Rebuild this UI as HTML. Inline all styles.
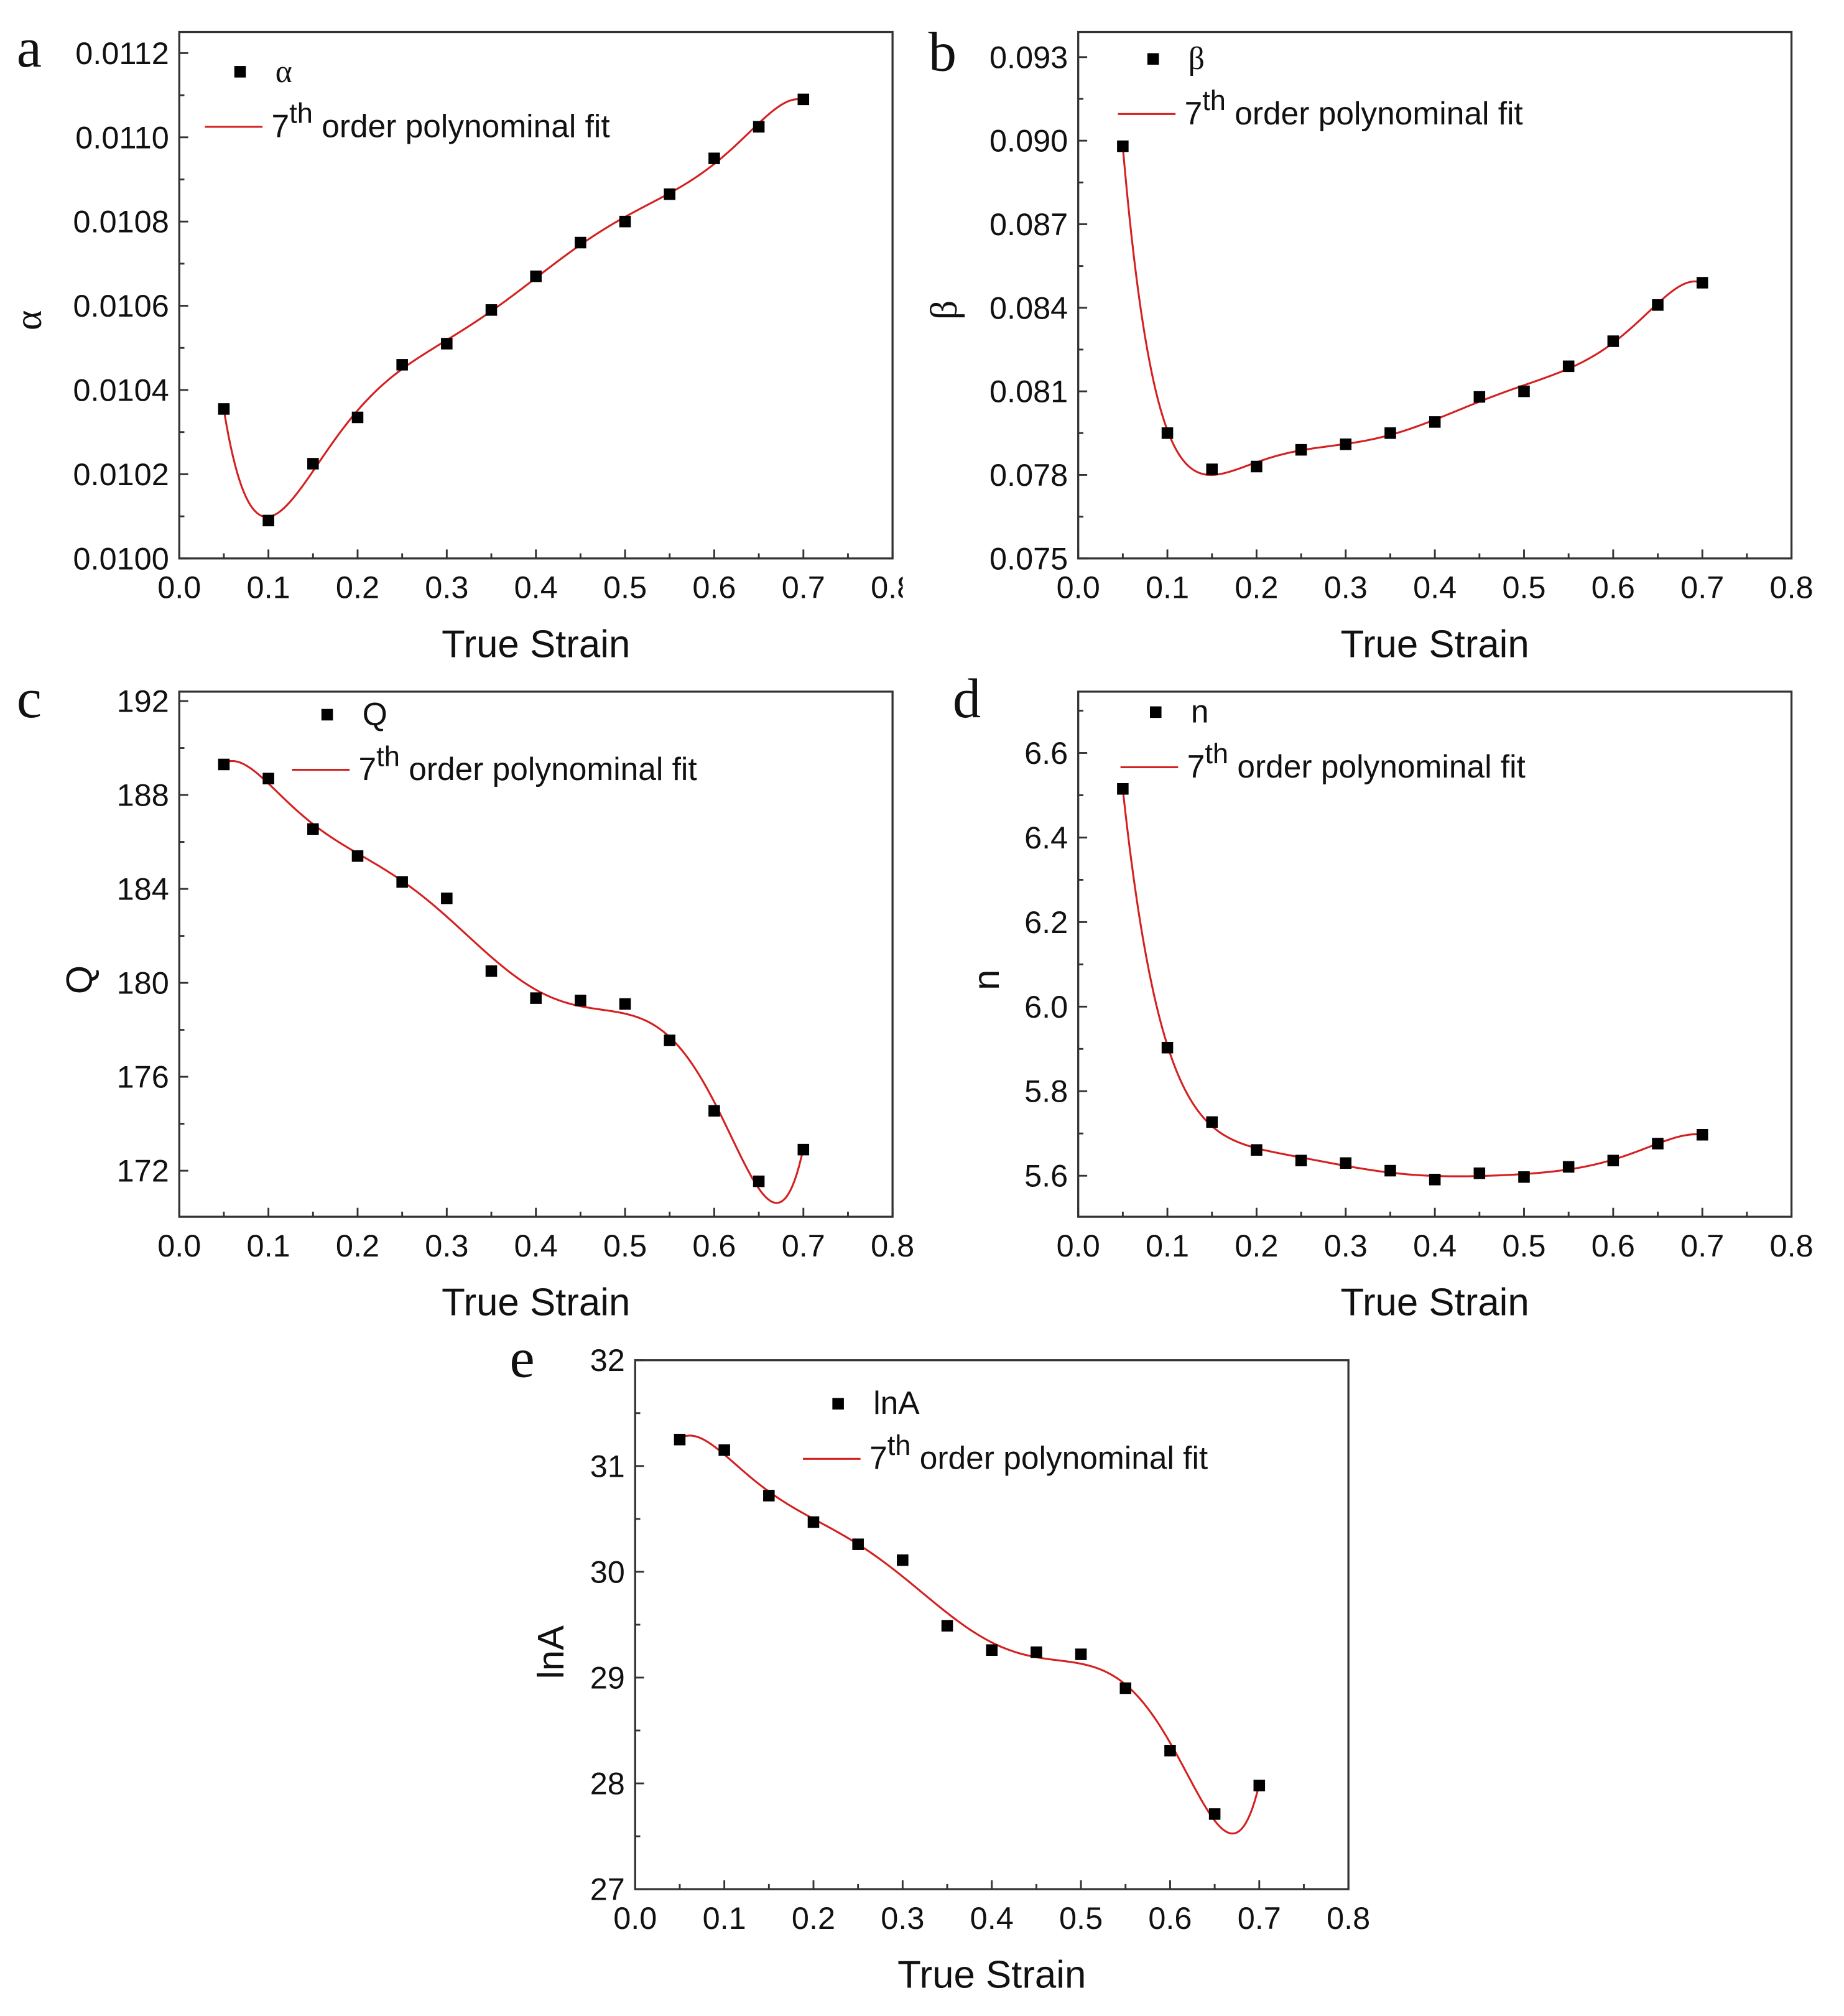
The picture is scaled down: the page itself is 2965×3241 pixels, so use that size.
<!DOCTYPE html>
<html><head><meta charset="utf-8"><style>
html,body{margin:0;padding:0;background:#fff;}
svg{display:block;}
text{font-family:"Liberation Sans",Arial,sans-serif;fill:#111;}
.ser{font-family:"Liberation Serif","DejaVu Serif",serif;}
</style></head><body>
<svg id="fig" width="2965" height="3241" viewBox="0 0 1440 1574" xmlns="http://www.w3.org/2000/svg">
<rect width="1440" height="1574" fill="#fff"/>
<defs><clipPath id="clipA"><rect x="0" y="0" width="705" height="1574"/></clipPath></defs>
</svg>
<script>
const strain = [0.05,0.1,0.15,0.2,0.25,0.3,0.35,0.4,0.45,0.5,0.55,0.6,0.65,0.7];
const alphaVals = [0.010355,0.01009,0.010225,0.010335,0.01046,0.01051,0.01059,0.01067,0.01075,0.0108,0.010865,0.01095,0.011025,0.01109];
const betaVals = [0.0898,0.0795,0.0782,0.0783,0.0789,0.0791,0.0795,0.0799,0.0808,0.0810,0.0819,0.0828,0.0841,0.0849];
const qVals = [189.3,188.7,186.55,185.4,184.3,183.6,180.5,179.35,179.25,179.1,177.55,174.55,171.55,172.9];
const nVals = [6.515,5.903,5.727,5.661,5.636,5.63,5.612,5.591,5.606,5.597,5.621,5.636,5.676,5.697];
const lnAVals = [31.25,31.15,30.72,30.47,30.26,30.11,29.49,29.26,29.24,29.22,28.90,28.31,27.71,27.98];
const xTicks = ['0.0','0.1','0.2','0.3','0.4','0.5','0.6','0.7','0.8'];
const aTicks = ['0.0100','0.0102','0.0104','0.0106','0.0108','0.0110','0.0112'];
const bTicks = ['0.075','0.078','0.081','0.084','0.087','0.090','0.093'];
const qTicks = ['172','176','180','184','188','192'];
const nTicks = ['5.6','5.8','6.0','6.2','6.4','6.6'];
const eTicks = ['27','28','29','30','31','32'];

const NS='http://www.w3.org/2000/svg';
const svg=document.getElementById('fig');
function mk(tag,attrs,parent){const e=document.createElementNS(NS,tag);for(const k in attrs)e.setAttribute(k,attrs[k]);(parent||svg).appendChild(e);return e;}

function polyfit(xs,ys,deg){
  const xm=(Math.min(...xs)+Math.max(...xs))/2, xs2=(Math.max(...xs)-Math.min(...xs))/2;
  const ym=ys.reduce((a,b)=>a+b,0)/ys.length; let ysd=Math.max(...ys.map(v=>Math.abs(v-ym)))||1;
  const n=deg+1; const A=[];for(let i=0;i<n;i++){A.push(new Array(n+1).fill(0));}
  xs.forEach((x,k)=>{const t=(x-xm)/xs2, y=(ys[k]-ym)/ysd;const p=[];for(let i=0;i<n;i++)p.push(Math.pow(t,i));
    for(let i=0;i<n;i++){for(let j=0;j<n;j++)A[i][j]+=p[i]*p[j];A[i][n]+=p[i]*y;}});
  for(let c=0;c<n;c++){let m=c;for(let r=c+1;r<n;r++)if(Math.abs(A[r][c])>Math.abs(A[m][c]))m=r;[A[c],A[m]]=[A[m],A[c]];
    for(let r=0;r<n;r++){if(r===c)continue;const f=A[r][c]/A[c][c];for(let j=c;j<=n;j++)A[r][j]-=f*A[c][j];}}
  const co=A.map((row,i)=>row[n]/row[i]);
  return x=>{const t=(x-xm)/xs2;let s=0;for(let i=n-1;i>=0;i--)s=s*t+co[i];return s*ysd+ym;};
}

function panel(o){
  const g=mk('g',{});
  
  
  const X=v=>o.L+(v-0)/(0.8)*(o.R-o.L);
  const Y=v=>o.B-(v-o.ymin)/(o.ymax-o.ymin)*(o.B-o.T);
  const fr=mk('rect',{x:o.L,y:o.T,width:o.R-o.L,height:o.B-o.T,fill:'none',stroke:'#333','stroke-width':1.6},g);
  
  const xg=mk('g',o.clip?{'clip-path':'url(#clipA)'}:{},g);
  
  for(let i=0;i<=16;i++){const v=i*0.05,x=X(v);mk('line',{x1:x,x2:x,y1:o.B,y2:o.B-(i%2?4:7),stroke:'#333','stroke-width':1.4},xg);}
  xTicks.forEach(t=>{const tx=mk('text',{x:X(parseFloat(t)),y:o.B+31,'font-size':24.5,'text-anchor':'middle'},xg);tx.textContent=t;
    });
  const yg=mk('g',{},g);
  const tv=o.ticks.map(Number);const step=tv[1]-tv[0];
  for(let v=tv[0]-step;v<=o.ymax+1e-9;v+=step/2){if(v<o.ymin-1e-9)continue;const y=Y(v);const maj=Math.abs(((v-tv[0])/step)-Math.round((v-tv[0])/step))<0.01;
    mk('line',{x1:o.L,x2:o.L+(maj?7:4),y1:y,y2:y,stroke:'#333','stroke-width':1.4},yg);}
  o.ticks.forEach(t=>{const tx=mk('text',{x:o.L-8,y:Y(+t)+8.5,'font-size':24.5,'text-anchor':'end'},yg);tx.textContent=t;
    });
  const xt=mk('text',{x:(o.L+o.R)/2,y:o.B+77,'font-size':30,'text-anchor':'middle'},g);xt.textContent='True Strain';
  
  const yt=mk('text',{x:o.ylx,y:o.yly,'font-size':o.ylSer?30:29,'text-anchor':'middle',transform:`rotate(-90 ${o.ylx} ${o.yly})`,class:o.ylSer?'ser':''},g);yt.textContent=o.ylabel;
  
  const pl=mk('text',{x:o.lx,y:o.ly,'font-size':44,class:'ser'},g);pl.textContent=o.letter;
  
  const f=polyfit(strain,o.vals,7);let d='';
  for(let i=0;i<=260;i++){const x=strain[0]+(strain[strain.length-1]-strain[0])*i/260;d+=(i?'L':'M')+X(x).toFixed(2)+' '+Y(f(x)).toFixed(2);}
  const fit=mk('path',{d:d,fill:'none',stroke:'#d42020','stroke-width':1.5},g);
  
  strain.forEach((s,i)=>{const r=mk('rect',{x:X(s)-4.5,y:Y(o.vals[i])-4.5,width:9,height:9,fill:'#000'},g);
    });
  const lg=mk('g',{},g);
  const m=mk('rect',{x:o.legX+18,y:o.legY-4.5,width:9,height:9,fill:'#000'},lg);
  
  const l1=mk('text',{x:o.legX+50,y:o.legY+8,'font-size':25,class:o.ylSer?'ser':''},lg);l1.textContent=o.ylabel;
  
  const ly=o.legY+43;
  const ll=mk('line',{x1:o.legX-5,x2:o.legX+40,y1:ly,y2:ly,stroke:'#d42020','stroke-width':1.5},lg);
  
  const l2=mk('text',{x:o.legX+47,y:ly+8,'font-size':25},lg);
  
  const t1=mk('tspan',{},l2);t1.textContent='7';
  const t2=mk('tspan',{dy:-11,'font-size':22},l2);t2.textContent='th';
  const t3=mk('tspan',{dy:11},l2);t3.textContent=' order polynominal fit';
}
panel({name:'panel-a-alpha',L:140,R:697,T:25,B:436,ymin:0.0100,ymax:0.01125,ticks:aTicks,vals:alphaVals,ylabel:'α',ylSer:true,ylx:32,yly:250,letter:'a',lx:13,ly:52,legX:165,legY:56,clip:true});
panel({name:'panel-b-beta',L:842,R:1399,T:25,B:436,ymin:0.075,ymax:0.0939,ticks:bTicks,vals:betaVals,ylabel:'β',ylSer:true,ylx:747,yly:242,letter:'b',lx:725,ly:55,legX:878,legY:46});
panel({name:'panel-c-Q',L:140,R:697,T:540,B:950,ymin:170.04,ymax:192.4,ticks:qTicks,vals:qVals,ylabel:'Q',ylx:72,yly:765,letter:'c',lx:13,ly:560,legX:233,legY:558});
panel({name:'panel-d-n',L:842,R:1399,T:540,B:950,ymin:5.503,ymax:6.745,ticks:nTicks,vals:nVals,ylabel:'n',ylx:780,yly:765,letter:'d',lx:744,ly:560,legX:880,legY:556});
panel({name:'panel-e-lnA',L:496,R:1053,T:1062,B:1475,ymin:27,ymax:32,ticks:eTicks,vals:lnAVals,ylabel:'lnA',ylx:440,yly:1290,letter:'e',lx:398,ly:1075,legX:632,legY:1096});
</script>
</body></html>
